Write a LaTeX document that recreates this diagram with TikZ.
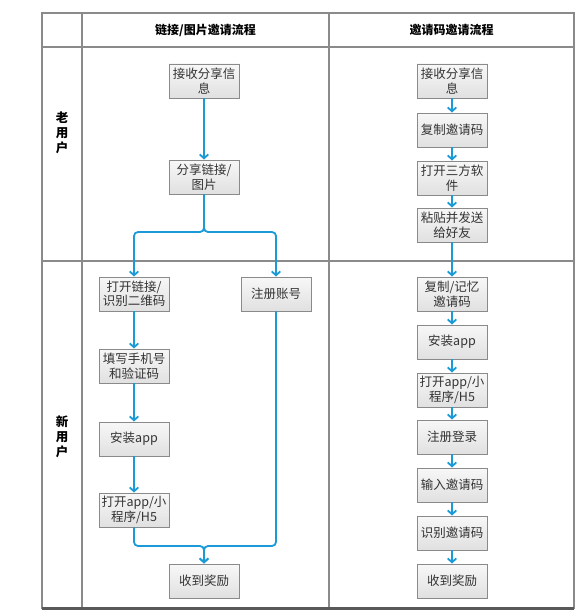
\documentclass[tikz,border=0pt]{standalone}
\usepackage{fontspec}
\setmainfont{Noto Sans CJK SC}
\usetikzlibrary{arrows.meta}
\definecolor{flowblue}{HTML}{1A9AD6}
\definecolor{gridgray}{HTML}{8A8A8A}
\definecolor{boxtext}{HTML}{333333}
\begin{document}
\begin{tikzpicture}[x=1pt, y=-1pt,
	>={Straight Barb[length=4pt, width=8.5pt]},
	stepbox/.style={draw=gridgray, line width=0.8pt, top color=gray!6, bottom color=gray!24,
		text width=68pt, minimum height=34pt, inner sep=1pt, align=center, text=boxtext,
		font=\fontsize{12.5}{14.5}\selectfont},
	flow/.style={->, flowblue, line width=1.8pt, rounded corners=4pt},
	headtext/.style={font=\fontsize{12}{14}\selectfont\bfseries},
	lanetext/.style={font=\fontsize{12.5}{15}\selectfont\bfseries, align=center}]
	\useasboundingbox (0,0) rectangle (575,610);
	
	% Table
	\draw[gridgray, line width=1.3pt] (42,13) rectangle (574,608);
	\draw[gridgray, line width=1.3pt] (82,13) -- (82,608);
	\draw[gridgray, line width=1.3pt] (329,13) -- (329,608);
	\draw[gridgray, line width=1.3pt] (42,47) -- (574,47);
	\draw[gridgray, line width=1.6pt] (42,261) -- (574,261);
	\draw[black!65, line width=3pt] (42,608) -- (574,608);
	
	% Headers
	\node[headtext] (headlink) at (205.5,30) {链接/图片邀请流程};
	\node[headtext] (headcode) at (451.5,30) {邀请码邀请流程};
	\node[lanetext] (laneold) at (62,133) {老\\用\\户};
	\node[lanetext] (lanenew) at (62,437) {新\\用\\户};
	
	% Link / picture flow
	\node[stepbox] (recv1) at (204,81) {接收分享信\\息};
	\node[stepbox] (share1) at (204,177) {分享链接/\\图片};
	\node[stepbox] (openlink) at (134,294) {打开链接/\\识别二维码};
	\node[stepbox] (register1) at (276,294) {注册账号};
	\node[stepbox] (fillphone) at (134,366) {填写手机号\\和验证码};
	\node[stepbox] (install1) at (134,439) {安装app};
	\node[stepbox] (openapp1) at (134,510) {打开app/小\\程序/H5};
	\node[stepbox] (reward1) at (204,581) {收到奖励};
	\coordinate (split) at (204,232);
	\coordinate (merge) at (204,546);
	
	\draw[flow] (recv1) -- (share1);
	\draw[flow] (share1.south) -- (split) -| (openlink.north);
	\draw[flow] (share1.south) -- (split) -| (register1.north);
	\draw[flow] (openlink) -- (fillphone);
	\draw[flow] (fillphone) -- (install1);
	\draw[flow] (install1) -- (openapp1);
	\draw[flow] (openapp1.south) |- (merge) -- (reward1.north);
	\draw[flow] (register1.south) |- (merge) -- (reward1.north);
	
	% Invite code flow
	\node[stepbox] (recv2) at (452,81) {接收分享信\\息};
	\node[stepbox] (copycode) at (452,130) {复制邀请码};
	\node[stepbox] (openthird) at (452,178) {打开三方软\\件};
	\node[stepbox] (paste) at (452,225) {粘贴并发送\\给好友};
	\node[stepbox] (remember) at (452,294) {复制/记忆\\邀请码};
	\node[stepbox] (install2) at (452,342) {安装app};
	\node[stepbox] (openapp2) at (452,390) {打开app/小\\程序/H5};
	\node[stepbox] (login) at (452,437) {注册登录};
	\node[stepbox] (inputcode) at (452,485) {输入邀请码};
	\node[stepbox] (checkcode) at (452,533) {识别邀请码};
	\node[stepbox] (reward2) at (452,581) {收到奖励};
	
	\foreach \a/\b in {recv2/copycode, copycode/openthird, openthird/paste, paste/remember,
		remember/install2, install2/openapp2, openapp2/login, login/inputcode,
		inputcode/checkcode, checkcode/reward2}
		\draw[flow] (\a) -- (\b);
\end{tikzpicture}
\end{document}
